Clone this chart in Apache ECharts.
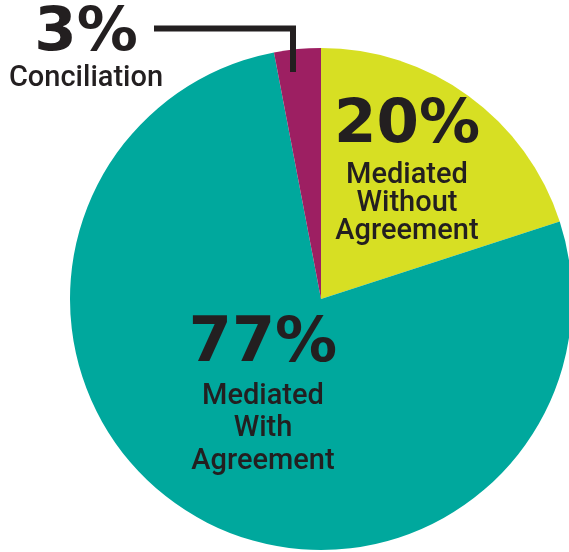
<!DOCTYPE html>
<html>
<head>
<meta charset="utf-8">
<script src="https://cdn.jsdelivr.net/npm/echarts@6/dist/echarts.min.js"></script>
<style>
  html, body { margin: 0; padding: 0; background: #fff; }
  #chart { width: 569px; height: 552px; }
</style>
</head>
<body>
<div id="chart"></div>
<script>
// slices, clockwise from 12 o'clock
var names = ['Mediated\nWithout\nAgreement', 'Mediated\nWith\nAgreement', 'Conciliation']
var values = [20, 77, 3]
var colors = ['#d7df23', '#00a89d', '#9d1f62']

// where each label block sits (centre of the block)
var labelPos = [[407, 168], [263, 394], [86, 49]]
var pctSize = [61, 62, 61]
var pctLine = [72, 70, 60]
var nameLine = [28, 32.5, 30]

var ink = '#231f20'

var myChart = echarts.init(document.getElementById('chart'))

var data = values.map(function (v, i) {
    return {
        value: v,
        name: names[i],
        itemStyle: { color: colors[i] },
        label: {
            rich: {
                p: { fontFamily: 'DejaVu Sans', fontWeight: 'bold', fontSize: pctSize[i], lineHeight: pctLine[i], color: ink },
                n: { fontFamily: 'Roboto', fontWeight: 500, fontSize: 29, lineHeight: nameLine[i], color: ink }
            }
        }
    }
})

myChart.setOption({
    animation: false,
    series: [{
        type: 'pie',
        center: [321, 299],
        radius: 251,
        startAngle: 90,
        clockwise: true,
        silent: true,
        data: data,
        label: {
            show: true,
            position: 'inside',
            align: 'center',
            formatter: function (p) {
                var lines = p.name.split('\n').map(function (s) { return '{n|' + s + '}' })
                return '{p|' + p.value + '%}\n' + lines.join('\n')
            }
        },
        labelLine: { show: false },
        labelLayout: function (params) {
            var pos = labelPos[params.dataIndex]
            return { x: pos[0], y: pos[1], align: 'center', verticalAlign: 'middle' }
        }
    }],
    graphic: [{
        type: 'polyline',
        shape: { points: [[154, 28.5], [293, 28.5], [293, 72]] },
        style: { stroke: ink, lineWidth: 6, fill: null, lineJoin: 'miter' },
        z: 10
    }]
})
</script>
</body>
</html>
